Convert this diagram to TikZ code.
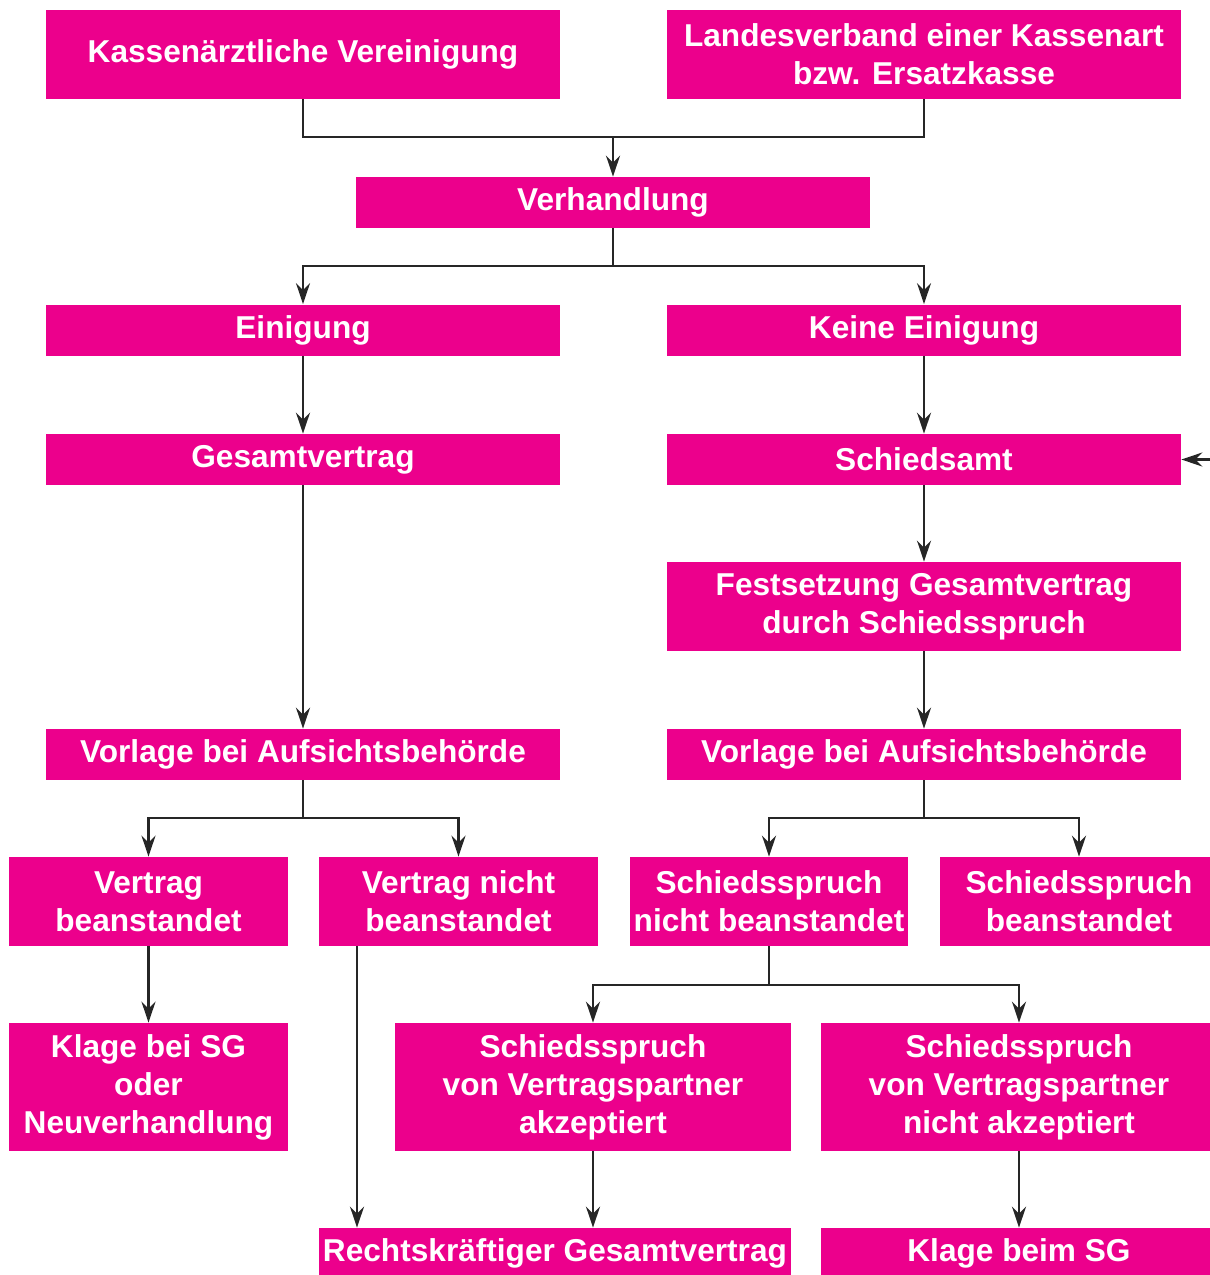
\documentclass[tikz,border=0pt]{standalone}
\usepackage{fontspec}
\setmainfont{Liberation Sans}
\usetikzlibrary{arrows.meta}
\definecolor{kvpink}{HTML}{EC008C}

\begin{document}
\begin{tikzpicture}[x=0.02cm,y=-0.02cm,
    box/.style={fill=kvpink,text=white,font=\fontsize{18}{21.6}\selectfont\bfseries,
                align=center,inner sep=0pt,minimum width=10.28cm,minimum height=1.02cm},
    tall/.style={minimum height=1.78cm},
    small/.style={minimum width=5.58cm},
    mid/.style={minimum width=7.92cm},
    link/.style={draw=black!85,line width=1.3pt},
    arr/.style={link,-{Stealth[length=12pt,width=8pt,inset=4pt]}}]
\useasboundingbox (0,0) rectangle (1210,1275);

% top row
\node[box,tall] (kv) at (303,54.5) {Kassenärztliche Vereinigung};
\node[box,tall] (lv) at (924,54.5) {Landesverband einer Kassenart\\bzw. Ersatzkasse};
\node[box] (verh) at (613,202.5) {Verhandlung};

% left branch
\node[box] (ein) at (303,330) {Einigung};
\node[box] (gv) at (303,459.5) {Gesamtvertrag};
\node[box] (vorl) at (303,754.5) {Vorlage bei Aufsichtsbehörde};
\node[box,small,tall] (vb) at (148.5,901.5) {Vertrag\\beanstandet};
\node[box,small,tall] (vnb) at (458.5,901.5) {Vertrag nicht\\beanstandet};
\node[box,small,minimum height=2.56cm] (klage) at (148.5,1087) {Klage bei SG\\oder\\Neuverhandlung};

% right branch
\node[box] (kein) at (924,330) {Keine Einigung};
\node[box] (sa) at (924,459.5) {Schiedsamt};
\node[box,tall] (fest) at (924,606.5) {Festsetzung Gesamtvertrag\\durch Schiedsspruch};
\node[box] (vorr) at (924,754.5) {Vorlage bei Aufsichtsbehörde};
\node[box,small,tall] (snb) at (769,901.5) {Schiedsspruch\\nicht beanstandet};
\node[box,small,tall] (sb) at (1079,901.5) {Schiedsspruch\\beanstandet};
\node[box,mid,minimum height=2.56cm] (akz) at (593,1087) {Schiedsspruch\\von Vertragspartner\\akzeptiert};
\node[box,mid,minimum height=2.56cm] (nakz) at (1019,1087) {Schiedsspruch\\von Vertragspartner\\nicht akzeptiert};

% bottom row
\node[box,minimum width=9.44cm] (rk) at (555,1253.5) {Rechtskräftiger Gesamtvertrag};
\node[box,mid] (kbs) at (1019,1253.5) {Klage beim SG};

\coordinate (sain) at (1212,459.5);

% connectors
\draw[link] (kv.south) |- (613,137) -| (lv.south);
\draw[arr] (613,137) -- (verh.north);
\draw[link] (verh.south) -- (613,266);
\draw[arr] (613,266) -| (ein.north);
\draw[arr] (613,266) -| (kein.north);
\draw[arr] (ein) -- (gv);
\draw[arr] (gv) -- (vorl);
\draw[arr] (kein) -- (sa);
\draw[arr] (sa) -- (fest);
\draw[arr] (fest) -- (vorr);
\draw[arr] (sain) -- (sa.east);

\draw[link] (vorl.south) -- (303,818);
\draw[arr] (303,818) -| (vb.north);
\draw[arr] (303,818) -| (vnb.north);
\draw[link] (vorr.south) -- (924,818);
\draw[arr] (924,818) -| (snb.north);
\draw[arr] (924,818) -| (sb.north);

\draw[arr] (vb) -- (klage);
\draw[arr] (vnb.south -| 357,0) -- (rk.north -| 357,0);
\draw[link] (snb.south) -- (769,985);
\draw[arr] (769,985) -| (akz.north);
\draw[arr] (769,985) -| (nakz.north);
\draw[arr] (akz) -- (akz |- rk.north);
\draw[arr] (nakz) -- (kbs);
\end{tikzpicture}
\end{document}
